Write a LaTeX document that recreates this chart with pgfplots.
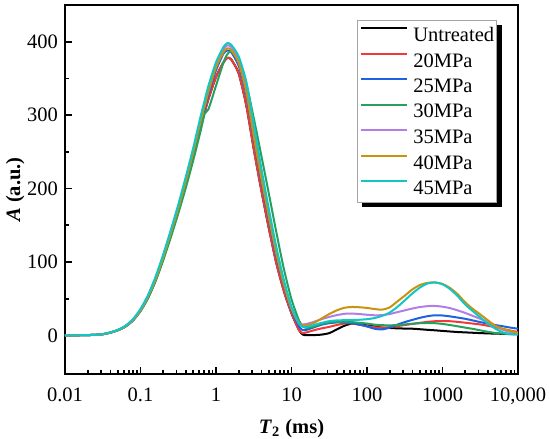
\documentclass[border=0pt]{standalone}
\usepackage{fontspec}
\setmainfont{Liberation Serif}
\usepackage{pgfplots}
\pgfplotsset{compat=1.18}
\usepackage{pgfplotstable}

\definecolor{cU}{HTML}{000000}
\definecolor{cR}{HTML}{F03A3A}
\definecolor{cB}{HTML}{1F62E0}
\definecolor{cG}{HTML}{25A05E}
\definecolor{cP}{HTML}{B07EE6}
\definecolor{cO}{HTML}{C8930E}
\definecolor{cC}{HTML}{12C6C6}

\newcommand\tf{\fontsize{10.25}{12}\selectfont}

\pgfplotstableread{
t        U     R     B     G     P     O     C
0.01     0     0     0     0     0     0     0
0.012589 0     0     0     0     0     0     0
0.015849 0.1   0.1   0.1   0.1   0.1   0.1   0.1
0.019953 0.3   0.3   0.3   0.3   0.3   0.3   0.3
0.025119 0.7   0.7   0.7   0.7   0.7   0.7   0.7
0.031623 1.5   1.5   1.5   1.5   1.5   1.5   1.6
0.039811 3.7   3.7   3.7   3.6   3.8   3.8   4
0.050119 7     7     7     6.8   7.2   7.2   7.5
0.063096 12    12    12.2  11.8  12.5  12.5  13
0.079433 20.5  20.5  20.5  20    21    21    22
0.1      33.5  33.5  34    33    34.5  34.5  36
0.12589  51.5  51.5  52    50.5  53    53    55
0.15849  75    75    76    74    77    77    80
0.19953  104   104   105   102   107   106   110
0.25119  136   136   137   133   140   139   143
0.31623  170   170   171   166   175   173   178
0.39811  206   206   208   201   212   210   216
0.50119  244   244   247   239   252   250   256
0.63096  285   285   289   280   295   293   300
0.70795  304   304   308   302   315   312   320
0.79433  322   322   328   308   335   332   340
1        352   352   361   340   368   365   372
1.2589   372   372   384   372   390   386   393
1.4125   378   378   388   383   395   391   398
1.5849   376   376   386   386.5 393   389   396
1.9953   357   357   367   375   376   371   380
2.5119   314   314   328   344   338   332   346
3.1623   254   254   268   296   278   271   288
3.9811   198   198   210   245   219   214   228
5.0119   146   146   157   193   164   161   172
6.3096   98    98    107   140   113   111   120
7.9433   60    60    67    90    71    69    75
10       30    30    34    49    37    36    39
12.589   7     7     12    20    16    16    16
14.125   1     3     7     12.5  15    14    11.5
15.849   0.3   4     7.5   10    15.5  13.5  11.5
19.953   0.3   7     11    12    18.5  17    14
25.119   1     9.5   14.5  15.5  22    23    17
31.623   3     11.5  16.5  17.5  25    29    19.3
39.811   8     14    17.5  18.3  27.5  34    20.3
50.119   13    16    17.5  18.5  29.3  37.5  20.6
63.096   16    16    16.5  18    29.6  38.6  20.8
79.433   15    14.5  14.5  17    29    38.2  21.2
100      13.5  12.5  12    16    28    37.3  22
125.89   12    11    9     14.5  27.3  35.8  23.5
158.49   10.5  10.5  8     13.8  27.5  35    26.5
199.53   10    11    10.5  13.6  29    38    31
251.19   9.5   12.5  14.5  14    31.5  46    38.5
316.23   9.2   14    18    14.8  34    54    47.5
398.11   9     15.5  21    15.8  36.5  62.5  57
501.19   8.3   17    23.8  16.5  38.5  68.5  65
630.96   7.5   18.3  26    16.8  39.7  71.5  70.5
794.33   6.8   19.2  27.3  16.5  40    72    72
1000     6     19.5  27    15.5  39    70    69.5
1258.9   5.2   19.2  25.8  14    37    64.5  63
1584.9   4.5   18.3  24.2  12.3  34    56    53.5
1995.3   4     17.2  22.5  10.5  30.5  45    42
2511.9   3.5   16    20.3  8.8   26.5  36    33
3162.3   3     14.8  18    6.8   22.5  28.5  24.5
3981.1   2.6   13    16    4.8   17.5  20.5  16
5011.9   2.3   11    14    3.2   12.5  13    9
6309.6   2     8.5   12.3  2.3   7.5   9     4
7943.3   1.7   6.5   10.5  1.8   4.5   6     1.8
10000    1.5   4.5   9     1.5   3     3     1
}\data

\begin{document}
\begin{tikzpicture}
\begin{axis}[name=ax, scale only axis, width=226.5pt, height=184.6pt,
  xmode=log, xmin=0.01, xmax=10000, ymin=-53, ymax=450,
  xtick={0.01,0.1,1,10,100,1000,10000},
  xticklabels={0.01,0.1,1,10,100,1000,{10,000}},
  minor xtick={0.02,0.03,0.04,0.05,0.06,0.07,0.08,0.09,0.2,0.3,0.4,0.5,0.6,0.7,0.8,0.9,2,3,4,5,6,7,8,9,20,30,40,50,60,70,80,90,200,300,400,500,600,700,800,900,2000,3000,4000,5000,6000,7000,8000,9000},
  ytick={0,100,200,300,400}, minor ytick={50,150,250,350},
  tick pos=left, tick align=inside,
  major tick length=3.5pt, minor tick length=2pt,
  every tick/.style={black, line width=0.9pt},
  axis line style={line width=1pt},
  /pgf/number format/assume math mode=true,
  tick label style={font=\tf},
  xticklabel style={yshift=-3.5pt},
  label style={font=\tf},
  xlabel={\textbf{\textit{T}\textsubscript{2} (ms)}},
  ylabel={\textbf{\textit{A} (a.u.)}},
  xlabel style={at={(axis description cs:0.5,-0.146)}, anchor=center},
  ylabel style={at={(axis description cs:-0.110,0.5)}, anchor=center, rotate=0},
  legend cell align=left,
  legend image code/.code={\draw[#1] (0pt,3.4pt) -- (23pt,3.4pt);},
  legend style={at={(axis description cs:0.6446,0.9594)}, anchor=north west,
    draw=gray!70, line width=0.5pt, fill=white,
    font=\tf, inner xsep=1.2pt, inner ysep=2.7pt, row sep=3.75pt, column sep=2.5pt,
    nodes={inner xsep=0.2pt, inner ysep=0pt, text height=7.8pt, text depth=1.2pt}},
  every axis plot/.append style={line width=1pt, smooth, tension=0.4},
]
% legend shadow (drawn beneath the legend box)
\fill[black] (axis description cs:0.6556,0.9458) rectangle (axis description cs:0.9636,0.4537);
\addplot[cU] table[x=t, y=U] {\data};
\addlegendentry{Untreated}
\addplot[cR] table[x=t, y=R] {\data};
\addlegendentry{20MPa}
\addplot[cB] table[x=t, y=B] {\data};
\addlegendentry{25MPa}
\addplot[cG] table[x=t, y=G] {\data};
\addlegendentry{30MPa}
\addplot[cP] table[x=t, y=P] {\data};
\addlegendentry{35MPa}
\addplot[cO] table[x=t, y=O] {\data};
\addlegendentry{40MPa}
\addplot[cC] table[x=t, y=C] {\data};
\addlegendentry{45MPa}
\end{axis}
\pgfresetboundingbox
\path[use as bounding box] ([xshift=-32.5pt,yshift=-31.9pt]ax.south west) rectangle ([xshift=16pt,yshift=2.5pt]ax.north east);
\end{tikzpicture}
\end{document}
